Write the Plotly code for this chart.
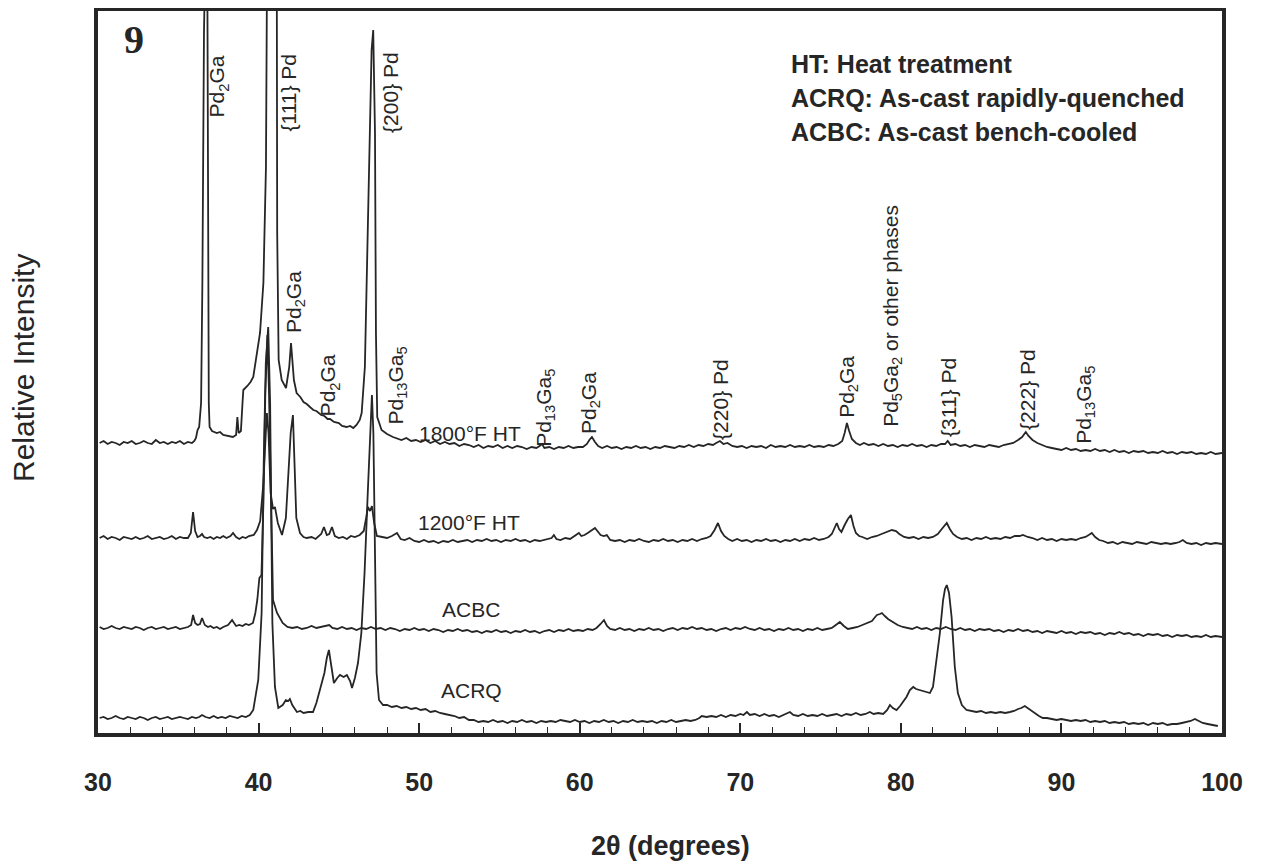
import plotly.graph_objects as go

# ---------------- data (2theta in degrees, relative intensity in arbitrary units) -------------
HT1800 = [
(30.1,290),(30.35,292),(30.6,289),(30.85,291),(31.1,290),(31.35,288),(31.6,291),(31.85,290),(32.1,292),(32.35,289),(32.6,290),(32.85,292),(33.1,290),(33.35,289),(33.6,293),(33.85,290),(34.1,291),(34.35,289),(34.6,291),(34.85,290),(35.1,292),(35.35,289),(35.6,291),(35.85,290),(36.0,292),
(36.1,295),(36.2,303),(36.3,306),(36.42,330),(36.5,450),(36.6,700),(36.7,800),(36.8,800),(36.85,520),(36.9,330),(36.95,306),(37.1,302),(37.4,300),(37.6,301),(37.8,298),(38.1,297),(38.4,296),(38.6,298),(38.68,316),(38.76,300),(38.9,302),(39.0,330),(39.05,343),(39.3,347),(39.5,351),(39.67,356),(39.9,380),(40.09,400),(40.3,450),(40.46,566),(40.54,800),(40.85,900),(41.13,800),(41.16,500),(41.25,373),(41.44,353),(41.71,345),(41.91,366),(42.02,390),(42.10,373),(42.2,353),
(42.37,340),(42.6,336),(42.8,331),(43.0,329),(43.2,326),(43.41,323),(43.6,322),(43.9,318),(44.1,317),(44.3,314),(44.45,314),(44.7,311),(45.0,310),(45.2,307),(45.48,306),(45.7,307),(45.9,305),(46.1,308),(46.3,313),(46.42,320),
(46.62,366),(46.87,566),(47.04,683),(47.14,703),(47.25,600),(47.31,400),(47.39,316),(47.66,303),(48.0,299),(48.37,296),
(48.6,295),(48.9,293),(49.2,295),(49.5,292),(49.8,293),(50.1,291),(50.4,293),(50.7,290),(51.0,292),(51.3,289),(51.6,291),(51.9,289),(52.2,290),(52.5,287),(52.8,289),(53.1,288),(53.4,286),(53.7,288),(54.0,285),(54.3,287),(54.6,286),(54.9,288),(55.2,285),(55.5,287),(55.8,285),(56.1,287),(56.4,286),(56.7,284),(57.0,286),(57.3,285),(57.5,287),(57.65,289),(57.8,285),(58.1,286),(58.4,284),(58.7,286),(59.0,285),(59.3,287),(59.6,285),(59.9,286),(60.2,286),(60.45,289),(60.6,293),(60.76,296),(60.95,291),(61.15,287),(61.4,285),(61.7,287),(62.0,285),(62.3,286),(62.6,284),(62.9,286),(63.2,285),(63.5,287),(63.8,285),(64.1,286),(64.4,284),(64.7,286),(65.0,285),(65.3,287),(65.6,286),(65.9,285),(66.2,287),(66.5,286),(66.8,288),(67.1,286),(67.4,288),(67.7,287),(68.0,289),(68.3,288),(68.5,290),(68.73,292),(68.95,289),(69.2,290),(69.5,287),(69.8,286),(70.1,287),(70.4,285),(70.7,287),(71.0,286),(71.3,287),(71.6,285),(71.9,288),(72.2,286),(72.5,287),(72.8,286),(73.1,288),(73.4,286),(73.7,287),(74.0,286),(74.3,288),(74.6,286),(74.9,287),(75.2,286),(75.5,288),(75.8,287),(76.1,289),(76.35,292),(76.5,300),(76.64,310),(76.78,302),(76.95,294),(77.2,290),(77.45,288),(77.7,290),(78.0,288),(78.3,289),(78.6,287),(78.9,289),(79.2,287),(79.5,288),(79.8,286),(80.1,288),(80.4,287),(80.7,289),(81.0,287),(81.3,288),(81.6,286),(81.9,288),(82.2,287),(82.5,289),(82.75,289),(82.92,292),(83.1,288),(83.4,289),(83.7,287),(84.0,288),(84.3,286),(84.6,288),(84.9,287),(85.2,286),(85.5,288),(85.8,287),(86.1,286),(86.4,288),(86.7,289),(87.0,290),(87.3,293),(87.55,296),(87.78,301),(87.95,297),(88.2,293),(88.5,290),(88.8,288),(89.1,286),(89.4,285),(89.7,284),(90.0,283),(90.3,285),(90.6,283),(90.9,284),(91.2,282),(91.5,283),(91.8,282),(92.1,284),(92.4,282),(92.7,283),(93.0,281),(93.3,283),(93.6,281),(93.9,282),(94.2,280),(94.5,282),(94.8,281),(95.1,282),(95.4,280),(95.7,281),(96.0,280),(96.3,282),(96.6,280),(96.9,281),(97.2,279),(97.5,281),(97.8,280),(98.1,281),(98.4,279),(98.7,280),(99.0,279),(99.3,281),(99.6,279),(100.0,280)
]

HT1200 = [
(30.1,195),(30.35,197),(30.6,194),(30.85,196),(31.1,195),(31.35,193),(31.6,196),(31.85,195),(32.1,194),(32.35,196),(32.6,194),(32.85,195),(33.1,197),(33.35,194),(33.6,195),(33.85,196),(34.1,194),(34.35,195),(34.6,197),(34.85,194),(35.1,196),(35.35,195),(35.6,195),
(35.78,200),(35.92,221),(36.05,202),(36.2,196),(36.35,197),(36.48,199),(36.6,196),(36.8,195),(37.0,196),(37.2,194),(37.4,196),(37.6,195),(37.8,197),(38.0,195),(38.25,197),(38.41,200),(38.6,196),(38.8,194),(39.0,196),(39.2,195),(39.4,197),(39.7,198),(39.9,203),(40.1,212),(40.3,250),(40.45,300),(40.52,320),(40.62,300),(40.75,240),(40.9,224),(41.02,226),(41.2,210),(41.46,198),(41.7,215),(41.88,270),(42.0,300),(42.14,318),(42.24,270),(42.35,215),
(42.58,200),(42.8,196),(43.0,195),(43.3,196),(43.55,194),(43.75,197),(43.9,199),(44.07,206),(44.25,198),(44.4,199),(44.57,206),(44.75,197),(45.0,195),(45.25,196),(45.5,194),(45.75,197),(46.0,196),(46.3,198),(46.55,202),
(46.7,215),(46.81,226),(46.94,222),(47.06,227),(47.2,210),(47.37,197),(47.7,196),(48.0,195),(48.3,197),(48.62,200),
(48.85,194),(49.1,193),(49.4,195),(49.7,192),(50.0,191),(50.3,193),(50.6,191),(50.9,192),(51.2,190),(51.5,192),(51.8,191),(52.1,193),(52.4,191),(52.7,192),(53.0,193),(53.3,191),(53.6,193),(53.9,192),(54.2,194),(54.5,192),(54.8,193),(55.1,191),(55.4,193),(55.7,192),(56.0,194),(56.3,192),(56.6,193),(56.9,191),(57.2,193),(57.5,192),(57.8,193),(58.1,194),(58.25,195),(58.39,198),(58.55,194),(58.8,193),(59.1,195),(59.4,194),(59.65,197),(59.8,199),(59.95,200),(60.1,197),(60.3,198),(60.5,200),(60.75,203),(60.95,205),(61.15,201),(61.3,198),(61.5,197),(61.69,198),(61.9,193),(62.2,192),(62.5,193),(62.8,191),(63.1,193),(63.4,192),(63.7,194),(64.0,192),(64.3,191),(64.6,193),(64.9,192),(65.2,194),(65.5,192),(65.8,193),(66.1,191),(66.4,193),(66.7,192),(67.0,194),(67.3,192),(67.6,194),(67.9,195),(68.15,197),(68.4,203),(68.61,210),(68.8,202),(69.0,197),(69.25,194),(69.5,192),(69.8,194),(70.1,192),(70.4,193),(70.7,191),(71.0,193),(71.3,192),(71.6,194),(71.9,192),(72.2,193),(72.5,191),(72.8,193),(73.1,192),(73.4,194),(73.7,192),(74.0,194),(74.3,193),(74.6,195),(74.9,193),(75.2,194),(75.5,196),(75.7,199),(75.85,205),(76.01,210),(76.15,204),(76.3,201),(76.5,208),(76.7,214),(76.89,218),(77.05,207),(77.2,200),(77.4,197),(77.6,196),(77.9,194),(78.2,196),(78.5,197),(78.8,199),(79.1,201),(79.3,202),(79.44,203),(79.7,202),(79.9,199),(80.2,196),(80.5,195),(80.8,196),(81.1,194),(81.4,196),(81.7,195),(82.0,196),(82.3,199),(82.55,204),(82.86,210),(83.05,204),(83.25,199),(83.5,196),(83.8,194),(84.1,195),(84.4,193),(84.7,195),(85.0,194),(85.3,196),(85.6,194),(85.9,195),(86.2,194),(86.5,196),(86.8,195),(87.1,197),(87.4,197),(87.6,198),(87.9,196),(88.2,195),(88.5,193),(88.8,195),(89.1,193),(89.4,194),(89.7,192),(90.0,194),(90.3,193),(90.6,194),(90.9,193),(91.2,195),(91.5,196),(91.7,198),(91.89,200),(92.1,196),(92.35,193),(92.6,192),(92.9,190),(93.2,191),(93.5,189),(93.8,191),(94.1,190),(94.4,189),(94.7,191),(95.0,190),(95.3,189),(95.6,191),(95.9,190),(96.2,189),(96.5,190),(96.8,189),(97.1,190),(97.35,191),(97.56,193),(97.8,190),(98.1,189),(98.4,190),(98.7,188),(99.0,190),(99.3,189),(99.6,190),(100.0,189)
]

ACBC = [
(30.1,106),(30.35,104),(30.6,105),(30.85,107),(31.1,105),(31.35,104),(31.6,106),(31.85,105),(32.1,104),(32.35,106),(32.6,105),(32.85,103),(33.1,105),(33.35,106),(33.6,104),(33.85,105),(34.1,106),(34.35,104),(34.6,105),(34.85,106),(35.1,104),(35.35,105),(35.6,106),
(35.8,108),(35.92,118),(36.05,110),(36.2,108),(36.35,109),(36.48,115),(36.65,108),(36.85,106),(37.0,107),(37.2,105),(37.4,106),(37.6,104),(37.8,106),(38.1,108),(38.35,113),(38.6,107),(38.8,108),(39.0,107),(39.2,109),(39.4,108),(39.65,110),(39.8,120),(39.92,133),(40.05,155),(40.18,158),(40.3,230),(40.42,340),(40.55,398),(40.65,340),(40.78,220),(40.9,133),(41.15,120),(41.5,110),(41.8,106),
(42.1,105),(42.4,106),(42.7,104),(43.0,105),(43.3,107),(43.6,105),(43.9,106),(44.2,107),(44.4,108),(44.6,105),(44.9,104),(45.2,106),(45.5,104),(45.8,105),(46.1,103),(46.4,105),(46.7,104),(47.0,106),(47.3,104),(47.6,105),(47.9,103),(48.2,105),(48.5,104),(48.8,102),(49.1,104),(49.4,103),(49.7,105),(50.0,103),(50.3,104),(50.6,102),(50.9,104),(51.2,103),(51.5,101),(51.8,103),(52.1,102),(52.4,104),(52.7,102),(53.0,103),(53.3,101),(53.6,102),(53.9,100),(54.2,102),(54.5,101),(54.8,103),(55.1,101),(55.4,102),(55.7,100),(56.0,102),(56.3,101),(56.6,103),(56.9,101),(57.2,102),(57.5,100),(57.8,102),(58.1,103),(58.4,101),(58.7,103),(59.0,102),(59.3,104),(59.6,102),(59.9,103),(60.2,102),(60.5,104),(60.8,103),(61.05,105),(61.3,109),(61.51,113),(61.7,107),(61.9,104),(62.2,103),(62.5,105),(62.8,103),(63.1,104),(63.4,102),(63.7,104),(64.0,103),(64.3,105),(64.6,103),(64.9,104),(65.2,102),(65.5,104),(65.8,105),(66.1,103),(66.4,105),(66.7,104),(67.0,106),(67.3,104),(67.6,105),(67.9,103),(68.2,104),(68.5,102),(68.8,104),(69.1,105),(69.4,103),(69.7,105),(70.0,104),(70.3,106),(70.6,104),(70.9,103),(71.2,105),(71.5,103),(71.8,104),(72.1,102),(72.4,104),(72.7,103),(73.0,105),(73.3,103),(73.6,104),(73.9,102),(74.2,104),(74.5,103),(74.8,105),(75.1,103),(75.4,104),(75.7,105),(75.95,108),(76.2,111),(76.45,107),(76.7,104),(77.0,105),(77.3,106),(77.6,108),(77.9,110),(78.2,112),(78.4,116),(78.51,118),(78.7,119),(78.82,120),(79.0,117),(79.2,114),(79.5,111),(79.8,108),(80.12,106),(80.4,105),(80.7,104),(81.0,106),(81.3,104),(81.6,105),(81.9,103),(82.2,105),(82.5,104),(82.8,106),(83.1,104),(83.4,103),(83.7,105),(84.0,103),(84.3,104),(84.6,102),(84.9,104),(85.2,103),(85.5,104),(85.8,102),(86.1,103),(86.4,101),(86.7,103),(87.0,102),(87.3,104),(87.6,102),(87.9,103),(88.2,101),(88.5,102),(88.8,100),(89.1,102),(89.4,101),(89.7,100),(90.0,102),(90.3,100),(90.6,101),(90.9,99),(91.2,101),(91.5,100),(91.8,101),(92.1,99),(92.4,100),(92.7,98),(93.0,100),(93.3,99),(93.6,101),(93.9,99),(94.2,100),(94.5,98),(94.8,99),(95.1,97),(95.4,99),(95.7,98),(96.0,99),(96.3,97),(96.6,98),(96.9,96),(97.2,98),(97.5,97),(97.8,98),(98.1,96),(98.4,97),(98.7,96),(99.0,98),(99.3,96),(99.6,97),(100.0,96)
]

ACRQ = [
(30.1,15),(30.35,16),(30.6,14),(30.85,15),(31.1,17),(31.35,15),(31.6,14),(31.85,16),(32.1,15),(32.35,14),(32.6,16),(32.85,15),(33.1,13),(33.35,15),(33.6,16),(33.85,14),(34.1,15),(34.35,16),(34.6,14),(34.85,15),(35.1,16),(35.35,15),(35.6,14),(35.85,16),(36.1,15),(36.3,16),(36.48,18),(36.7,16),(36.95,15),(37.2,17),(37.45,15),(37.7,16),(37.95,15),(38.2,17),(38.45,16),(38.7,15),(38.95,17),(39.2,16),(39.45,18),
(39.67,23),(39.98,53),(40.19,120),(40.32,270),(40.45,370),(40.6,406),(40.72,330),(40.8,200),(40.86,110),(41.02,46),(41.23,25),(41.5,28),(41.7,33),(41.85,32),(41.95,34),(42.1,28),(42.39,21),(42.6,22),(42.8,20),(43.1,21),(43.39,21),(43.6,30),(43.82,43),(44.1,60),(44.25,75),(44.38,83),(44.55,65),(44.69,50),(44.9,55),(45.07,58),(45.3,56),(45.5,58),(45.7,52),(45.82,45),(46.0,55),(46.19,70),(46.4,100),(46.6,160),(46.8,240),(46.95,300),(47.06,338),(47.15,300),(47.25,180),(47.35,60),(47.5,33),(47.75,28),
(48.0,28),(48.3,26),(48.6,27),(48.9,25),(49.2,26),(49.5,24),(49.8,25),(50.1,23),(50.4,24),(50.7,21),(51.0,22),(51.3,20),(51.6,19),(51.9,18),(52.2,17),(52.5,15),(52.8,16),(53.1,13),(53.4,13),(53.7,11),(54.0,12),(54.3,11),(54.6,13),(54.9,11),(55.2,12),(55.5,10),(55.8,12),(56.1,11),(56.4,13),(56.7,11),(57.0,12),(57.3,10),(57.6,12),(57.9,11),(58.2,12),(58.5,11),(58.8,13),(59.1,12),(59.4,11),(59.7,13),(60.0,11),(60.3,12),(60.6,10),(60.9,12),(61.2,11),(61.5,13),(61.8,11),(62.1,12),(62.4,10),(62.7,12),(63.0,11),(63.3,13),(63.6,11),(63.9,12),(64.2,11),(64.5,12),(64.8,10),(65.1,12),(65.4,11),(65.7,13),(66.0,11),(66.3,12),(66.6,13),(66.9,12),(67.2,13),(67.45,15),(67.6,17),(67.9,16),(68.2,17),(68.5,16),(68.8,18),(69.1,16),(69.4,18),(69.7,17),(70.0,19),(70.2,18),(70.41,21),(70.6,18),(70.9,19),(71.2,17),(71.5,19),(71.8,17),(72.1,18),(72.4,16),(72.7,18),(72.9,19),(73.09,21),(73.3,18),(73.6,17),(73.9,19),(74.2,17),(74.5,18),(74.8,17),(75.1,19),(75.4,17),(75.7,18),(76.0,19),(76.3,17),(76.6,19),(76.9,18),(77.2,20),(77.5,18),(77.8,19),(78.07,21),(78.3,19),(78.6,20),(78.9,19),(79.15,23),(79.32,28),(79.5,25),(79.73,23),(79.95,27),(80.15,31),(80.35,36),(80.56,43),(80.77,46),(80.95,44),(81.15,43),(81.35,42),(81.55,41),(81.81,40),(82.0,46),(82.24,75),(82.43,100),(82.63,133),(82.75,144),(82.86,148),(83.0,140),(83.16,116),(83.36,66),(83.55,40),(83.8,28),(84.09,23),(84.4,22),(84.7,21),(85.0,22),(85.3,20),(85.6,21),(85.9,20),(86.2,21),(86.5,20),(86.79,21),(87.05,22),(87.3,24),(87.5,25),(87.72,27),(87.9,25),(88.1,22),(88.4,19),(88.6,17),(88.84,15),(89.1,15),(89.4,14),(89.7,13),(90.0,14),(90.3,13),(90.6,12),(90.9,13),(91.2,12),(91.5,13),(91.8,11),(92.1,12),(92.4,11),(92.7,12),(93.0,10),(93.3,11),(93.6,10),(93.9,11),(94.2,9),(94.5,10),(94.8,9),(95.1,10),(95.4,8),(95.7,10),(96.0,9),(96.3,10),(96.6,8),(96.9,9),(97.2,9),(97.5,10),(97.8,11),(98.05,12),(98.31,14),(98.55,12),(98.8,10),(99.1,9),(99.4,8),(99.74,7)
]

SERIES = [("1800°F HT", HT1800), ("1200°F HT", HT1200), ("ACBC", ACBC), ("ACRQ", ACRQ)]

TICK_VALUES = [30, 40, 50, 60, 70, 80, 90, 100]
TICK_LABELS = ["30", "40", "50", "60", "70", "80", "90", "100"]

# Peak labels: (text, 2theta position, intensity-level position)
PEAK_LABELS = [
    ("Pd<sub>2</sub>Ga", 37.50, 647),
    ("{111} Pd", 41.86, 640),
    ("{200} Pd", 48.18, 641),
    ("Pd<sub>2</sub>Ga", 42.27, 431),
    ("Pd<sub>2</sub>Ga", 44.41, 348),
    ("Pd<sub>13</sub>Ga<sub>5</sub>", 48.59, 347),
    ("Pd<sub>13</sub>Ga<sub>5</sub>", 57.83, 325),
    ("Pd<sub>2</sub>Ga", 60.64, 330),
    ("{220} Pd", 68.73, 334),
    ("Pd<sub>2</sub>Ga", 76.70, 346),
    ("Pd<sub>5</sub>Ga<sub>2</sub> or other phases", 79.44, 417),
    ("{311} Pd", 82.93, 336),
    ("{222} Pd", 87.85, 344),
    ("Pd<sub>13</sub>Ga<sub>5</sub>", 91.46, 328),
]
TRACE_LABELS = [("1800°F HT", 53.16, 300), ("1200°F HT", 53.10, 211), ("ACBC", 53.23, 124), ("ACRQ", 53.29, 43)]
NOTES = ["HT: Heat treatment", "ACRQ: As-cast rapidly-quenched", "ACBC: As-cast bench-cooled"]

# ---------------- figure -------------
# the page body adds an 8 px offset, so the figure is 8 px smaller than the window
OFF = 8
W, H = 1262 - OFF, 865 - OFF
PX_L, PX_R, PX_T, PX_B = 98, 1222, 11, 733      # plot frame in window pixels
L, R, T, B = PX_L - OFF, W - (PX_R - OFF), PX_T - OFF, H - (PX_B - OFF)
INK = "#262626"
FONT = "Liberation Sans, Arial, sans-serif"

fig = go.Figure()
for name, pts in SERIES:
    xs = [p[0] for p in pts]
    ys = [p[1] for p in pts]
    fig.add_trace(go.Scatter(x=xs, y=ys, mode="lines", name=name,
                             line=dict(color=INK, width=1.8), showlegend=False,
                             hoverinfo="x+y+name"))

ann = []
for text, x, y in PEAK_LABELS:
    ann.append(dict(text=text, x=x, y=y, xref="x", yref="y", showarrow=False,
                    textangle=-90, xanchor="center", yanchor="middle",
                    font=dict(family=FONT, size=21, color=INK)))
for text, x, y in TRACE_LABELS:
    ann.append(dict(text=text, x=x, y=y, xref="x", yref="y", showarrow=False,
                    xanchor="center", yanchor="middle",
                    font=dict(family=FONT, size=21, color=INK)))

def paper_x(px):
    return (px - PX_L) / (PX_R - PX_L)

def paper_y(py):
    return (PX_B - py) / (PX_B - PX_T)

for i, t in enumerate(NOTES):
    ann.append(dict(text="<b>%s</b>" % t, x=paper_x(789), y=paper_y(64 + 34 * i),
                    xref="paper", yref="paper", showarrow=False,
                    xanchor="left", yanchor="middle",
                    font=dict(family=FONT, size=25, color=INK)))

ann.append(dict(text="<b>9</b>", x=paper_x(134), y=paper_y(40), xref="paper", yref="paper",
                showarrow=False, xanchor="center", yanchor="middle",
                font=dict(family="Liberation Serif, Times New Roman, serif", size=40, color=INK)))
ann.append(dict(text="Relative Intensity", x=paper_x(23), y=paper_y(368), xref="paper", yref="paper",
                showarrow=False, textangle=-90, xanchor="center", yanchor="middle",
                font=dict(family=FONT, size=30, color=INK)))
ann.append(dict(text="<b>2θ (degrees)</b>", x=paper_x(670), y=paper_y(846), xref="paper", yref="paper",
                showarrow=False, xanchor="center", yanchor="middle",
                font=dict(family=FONT, size=27, color=INK)))

fig.update_layout(
    width=W, height=H,
    margin=dict(l=L, r=R, t=T, b=B, pad=0, autoexpand=False),
    paper_bgcolor="white", plot_bgcolor="white",
    annotations=ann,
    xaxis=dict(range=[30, 100], tickmode="array", tickvals=TICK_VALUES, ticktext=TICK_LABELS,
               ticks="inside", ticklen=10, tickwidth=1.6, tickcolor=INK,
               minor=dict(dtick=2, ticks="inside", ticklen=6, tickwidth=1.3, tickcolor=INK),
               showline=True, linewidth=3.5, linecolor=INK, mirror=True,
               showgrid=False, zeroline=False, ticklabelstandoff=24,
               tickfont=dict(family=FONT, size=25, color=INK, weight="bold")),
    yaxis=dict(range=[0, 722], showticklabels=False, ticks="",
               showline=True, linewidth=3.5, linecolor=INK, mirror=True,
               showgrid=False, zeroline=False),
)

fig.write_html("out.html")
